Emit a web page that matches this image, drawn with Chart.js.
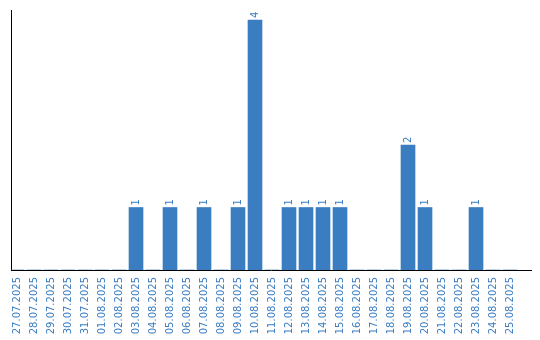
<!DOCTYPE html>
<html>
<head>
<meta charset="utf-8">
<script src="https://cdn.jsdelivr.net/npm/chart.js@4"></script>
<style>
html,body{margin:0;padding:0;background:#fff;}
#wrap{width:540px;height:340px;position:relative;}
</style>
</head>
<body>
<div id="wrap"><canvas id="c" width="540" height="340"></canvas></div>
<script>
const dateLabels = ["27.07.2025","28.07.2025","29.07.2025","30.07.2025","31.07.2025","01.08.2025","02.08.2025","03.08.2025","04.08.2025","05.08.2025","06.08.2025","07.08.2025","08.08.2025","09.08.2025","10.08.2025","11.08.2025","12.08.2025","13.08.2025","14.08.2025","15.08.2025","16.08.2025","17.08.2025","18.08.2025","19.08.2025","20.08.2025","21.08.2025","22.08.2025","23.08.2025","24.08.2025","25.08.2025"];
const counts = [0,0,0,0,0,0,0,1,0,1,0,1,0,1,4,0,1,1,1,1,0,0,0,2,1,0,0,1,0,0];

const BLUE = '#3b7dc1';
const FONT = 'DejaVu Sans';

const valueLabels = {
  id: 'valueLabels',
  afterDatasetsDraw(chart) {
    const ctx = chart.ctx;
    const meta = chart.getDatasetMeta(0);
    ctx.save();
    ctx.fillStyle = BLUE;
    ctx.font = '10px "' + FONT + '"';
    meta.data.forEach((bar, i) => {
      const v = counts[i];
      if (!v) return;
      ctx.save();
      ctx.translate(bar.x, bar.y - 2);
      ctx.rotate(-Math.PI / 2);
      ctx.textAlign = 'left';
      ctx.textBaseline = 'middle';
      ctx.fillText(String(v), 0, 0);
      ctx.restore();
    });
    ctx.restore();
  }
};

new Chart(document.getElementById('c'), {
  type: 'bar',
  data: {
    datasets: [{
      data: counts.map((v, i) => ({x: i, y: v})),
      backgroundColor: BLUE,
      borderWidth: 0,
      barThickness: 14
    }]
  },
  options: {
    responsive: false,
    animation: false,
    devicePixelRatio: 1,
    layout: {padding: {top: 10, right: 9, left: 0, bottom: 0}},
    plugins: {legend: {display: false}, tooltip: {enabled: false}},
    scales: {
      x: {
        type: 'linear',
        offset: false,
        min: -6/17,
        max: 30.235,
        grid: {display: false, drawTicks: false},
        border: {display: true, color: '#000', width: 1},
        afterFit(scale) { scale.height = 70; scale.paddingLeft = 0; scale.paddingRight = 0; },
        ticks: {
          stepSize: 1,
          autoSkip: false,
          includeBounds: false,
          maxTicksLimit: 100,
          minRotation: 90,
          maxRotation: 90,
          padding: 7,
          color: BLUE,
          font: {family: FONT, size: 10},
          callback: (v) => (Number.isInteger(v) && dateLabels[v]) ? dateLabels[v] : ''
        }
      },
      y: {
        min: 0,
        max: 4.16,
        grid: {display: false, drawTicks: false},
        border: {display: true, color: '#000', width: 1},
        ticks: {display: false},
        afterFit(scale) { scale.width = 11; scale.paddingTop = 0; scale.paddingBottom = 0; }
      }
    }
  },
  plugins: [valueLabels]
});
</script>
</body>
</html>
